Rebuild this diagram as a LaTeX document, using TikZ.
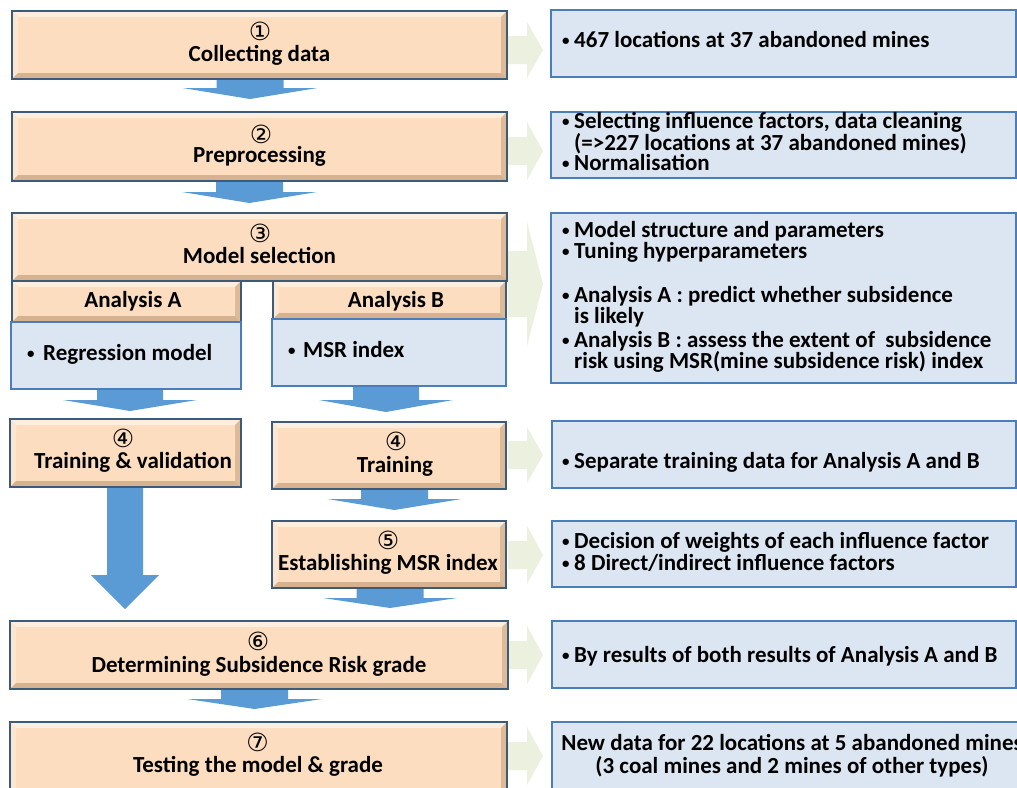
\documentclass[tikz,border=0pt]{standalone}
\usepackage{fontspec}
\usepackage{graphicx}
\setmainfont{Carlito}
\newfontfamily\numfont{DejaVu Sans}
\definecolor{orfill}{HTML}{FCDDBF}
\definecolor{orlight}{HTML}{FEEEDF}
\definecolor{orleft}{HTML}{FDE6D1}
\definecolor{ordark}{HTML}{DDBA98}
\definecolor{orbot}{HTML}{D6B290}
\definecolor{orline}{HTML}{3C5A7A}
\definecolor{blfill}{HTML}{DCE6F2}
\definecolor{blline}{HTML}{4A7EBB}
\definecolor{arrblue}{HTML}{5B9BD5}
\definecolor{arrgreen}{HTML}{EBF1DE}
\tikzset{
  txt/.style={font=\fontsize{23}{26}\selectfont\bfseries, inner sep=0pt, anchor=base},
  rtxt/.style={font=\fontsize{23}{26}\selectfont\bfseries, inner sep=0pt, anchor=base west},
  num/.style={font=\numfont\fontsize{25}{28}\selectfont, inner sep=0pt},
  boxframe/.style={draw=orline, line width=1.4pt, inner sep=0pt},
  bluebox/.style={draw=blline, fill=blfill, line width=1.2pt, inner sep=0pt},
}
\newcommand\orbox[5]{% name x1 y1 x2 y2
  \fill[orfill] (#2,#3) rectangle (#4,#5);
  \fill[orlight] (#2,#3) -- (#4,#3) -- ({#4-6},{#3+6}) -- ({#2+6},{#3+6}) -- cycle;
  \fill[orleft] (#2,#3) -- ({#2+6},{#3+6}) -- ({#2+6},{#5-6}) -- (#2,#5) -- cycle;
  \fill[ordark] (#4,#3) -- (#4,#5) -- ({#4-6},{#5-6}) -- ({#4-6},{#3+6}) -- cycle;
  \fill[orbot] (#2,#5) -- (#4,#5) -- ({#4-6},{#5-6}) -- ({#2+6},{#5-6}) -- cycle;
  \node[boxframe, minimum width={#4-#2}, minimum height={#5-#3}] (#1) at ({(#2+#4)/2},{(#3+#5)/2}) {};
}
\newcommand\blbox[5]{%
  \node[bluebox, minimum width={#4-#2}, minimum height={#5-#3}] (#1) at ({(#2+#4)/2},{(#3+#5)/2}) {};
}
% cx, y0, y1, y2, shaft half width, head half width
\newcommand\bdown[6]{%
  \fill[arrblue] ({#1-#5},#2) -- ({#1+#5},#2) -- ({#1+#5},#3) -- ({#1+#6},#3) -- (#1,#4) -- ({#1-#6},#3) -- ({#1-#5},#3) -- cycle;
}
% cy, shaft half, head half
\newcommand\gright[3]{%
  \fill[arrgreen] (508,{#1-#2}) -- (527,{#1-#2}) -- (527,{#1-#3}) -- (543,#1) -- (527,{#1+#3}) -- (527,{#1+#2}) -- (508,{#1+#2}) -- cycle;
}
\newcommand\mydot{\raisebox{2pt}{\scalebox{0.65}{•}}}
\newcommand\bul{\makebox[12pt][l]{\mydot}}
\begin{document}
\begin{tikzpicture}[x=1pt,y=-1pt]
\useasboundingbox (0,0) rectangle (1017,787);
\clip (0,0) rectangle (1017,787);
\fill[white] (0,0) rectangle (1017,787);

% green arrows
\gright{50}{14}{28}
\gright{151}{14}{29}
\gright{284}{33}{62}
\gright{455}{14}{28}
\gright{555}{14}{29}
\gright{655}{14}{29}
\gright{756}{14}{29}

% blue arrows
\bdown{250}{79}{88}{99}{33.5}{67.5}
\bdown{249.5}{181}{192}{203}{33.5}{67.5}
\bdown{130}{389}{400}{411}{33}{67}
\bdown{386}{386}{400}{412}{33}{67}
\bdown{394.5}{489}{499}{510}{33.5}{67}
\bdown{390}{588}{598}{608}{33.5}{67}
\bdown{125}{487}{575}{609}{18}{34}
\bdown{254.5}{689}{699}{709}{33.5}{67.5}

% left column
\orbox{b1}{12}{11}{507}{79}
\node[num] (n1) at (260,31) {①};
\node[txt] (t1) at (259.5,61) {Collecting data};

\orbox{b2}{12}{112}{507}{181}
\node[num] (n2) at (261,134) {②};
\node[txt] (t2) at (259.5,162) {Preprocessing};

\orbox{b3}{12}{213}{507}{281}
\node[num] (n3) at (260,233) {③};
\node[txt] (t3) at (259.5,263) {Model selection};

\orbox{ba}{12}{281}{241}{322}
\node[txt] (ta) at (133,307) {Analysis A};
\orbox{bb}{273}{281}{506}{319}
\node[txt] (tb) at (396,307) {Analysis B};

\blbox{ra}{11}{322}{241}{389}
\node[rtxt] (tra) at (27,360) {\makebox[16pt][l]{\mydot}Regression model};
\blbox{rb}{272}{319}{506}{386}
\node[rtxt] (trb) at (288,357) {\makebox[15pt][l]{\mydot}MSR index};

\orbox{b4a}{10}{419}{241}{487}
\node[num] (n4a) at (123,438) {④};
\node[txt] (t4a) at (133,468) {Training \& validation};

\orbox{b4b}{272}{422}{506}{489}
\node[num] (n4b) at (396,441) {④};
\node[txt] (t4b) at (395,472) {Training};

\orbox{b5}{272}{521}{506}{588}
\node[num] (n5) at (388,540) {⑤};
\node[txt] (t5) at (388,570) {Establishing MSR index};

\orbox{b6}{10}{621}{508}{689}
\node[num] (n6) at (258,641) {⑥};
\node[txt] (t6) at (259,672) {Determining Subsidence Risk grade};

\orbox{b7}{10}{722}{507}{800}
\node[num] (n7) at (257.5,742) {⑦};
\node[txt] (t7) at (258,772) {Testing the model \& grade};

% right column
\blbox{r1}{551}{10}{1016}{77}
\node[rtxt] (r1a) at (562,47) {\bul 467 locations at 37 abandoned mines};

\blbox{r2}{551}{112}{1016}{178}
\node[rtxt] (r2a) at (562,128) {\bul Selecting influence factors, data cleaning};
\node[rtxt] (r2b) at (562,150) {\hspace*{12pt}(=>227 locations at 37 abandoned mines)};
\node[rtxt] (r2c) at (562,170) {\bul Normalisation};

\blbox{r3}{551}{213}{1016}{383}
\node[rtxt] (r3a) at (562,237) {\bul Model structure and parameters};
\node[rtxt] (r3b) at (562,258) {\bul Tuning hyperparameters};
\node[rtxt] (r3c) at (562,302) {\bul Analysis A : predict whether subsidence};
\node[rtxt] (r3d) at (562,323) {\hspace*{12pt}is likely};
\node[rtxt] (r3e) at (562,347) {\bul Analysis B : assess the extent of\ \ subsidence};
\node[rtxt] (r3f) at (562,368) {\hspace*{12pt}risk using MSR(mine subsidence risk) index};

\blbox{r4}{552}{421}{1016}{488}
\node[rtxt] (r4a) at (562,468) {\bul Separate training data for Analysis A and B};

\blbox{r5}{552}{521}{1016}{587}
\node[rtxt] (r5a) at (562,548) {\bul Decision of weights of each influence factor};
\node[rtxt] (r5b) at (562,570) {\bul 8 Direct/indirect influence factors};

\blbox{r6}{552}{621}{1016}{688}
\node[rtxt] (r6a) at (562,662) {\bul By results of both results of Analysis A and B};

\blbox{r7}{552}{722}{1030}{800}
\node[txt] (r7a) at (792,750) {New data for 22 locations at 5 abandoned mines};
\node[txt] (r7b) at (792,773) {(3 coal mines and 2 mines of other types)};
\end{tikzpicture}
\end{document}
